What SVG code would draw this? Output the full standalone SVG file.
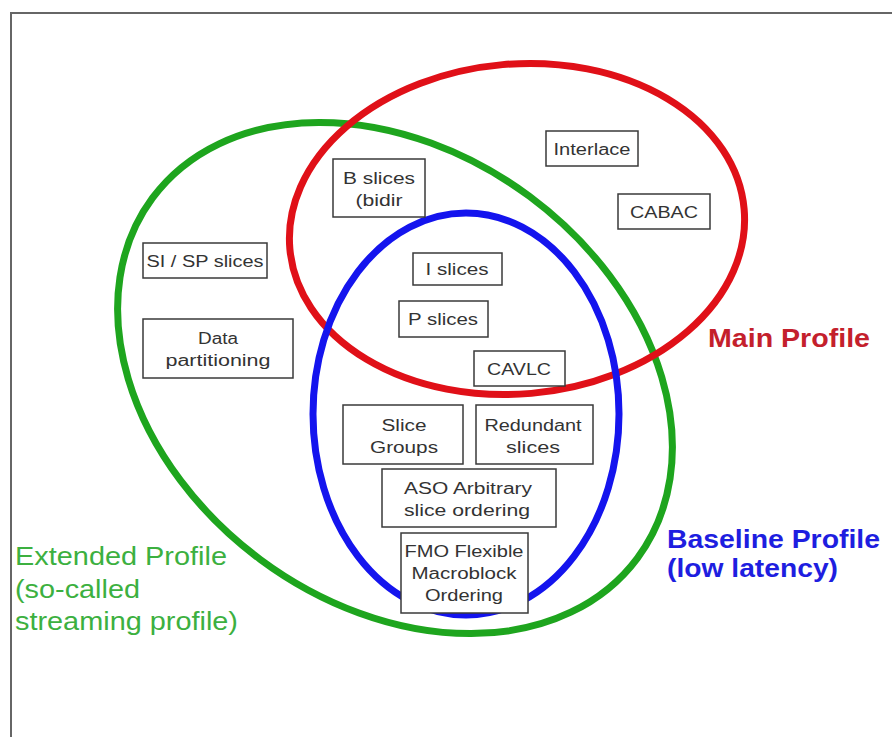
<svg xmlns="http://www.w3.org/2000/svg" width="892" height="737" viewBox="0 0 892 737">
<style>
.box{fill:#fff;stroke:#3a3a3a;stroke-width:1.5}
.bt{font-family:"Liberation Sans",Arial,sans-serif;font-size:16px;fill:#333;text-anchor:middle}
.ell{fill:none;stroke-width:7}
.lab{font-family:"Liberation Sans",Arial,sans-serif;font-size:25px}
</style>
<rect width="892" height="737" fill="#fff"/>
<path d="M11 737 V13 H892" fill="none" stroke="#666" stroke-width="2"/>
<g id="sets">
<ellipse id="extended" class="ell" cx="395" cy="378" rx="302" ry="226" transform="rotate(36.6 395 378)" stroke="#1ea51e"/>
<ellipse id="main" class="ell" cx="517" cy="229" rx="228" ry="165" transform="rotate(-5 517 229)" stroke="#e01018"/>
<ellipse id="baseline" class="ell" cx="466" cy="414" rx="153" ry="201" stroke="#1414ee"/>
</g>
<g id="connectors"></g>
<g id="interlace"><rect class="box" x="546" y="131" width="92" height="35"/><text class="bt" x="592" y="155" textLength="77" lengthAdjust="spacingAndGlyphs">Interlace</text></g>
<g id="cabac"><rect class="box" x="618" y="194" width="92" height="35"/><text class="bt" x="664" y="218" textLength="68" lengthAdjust="spacingAndGlyphs">CABAC</text></g>
<g id="bslices"><rect class="box" x="333" y="159" width="92" height="58"/><text class="bt" x="379" y="184" textLength="72" lengthAdjust="spacingAndGlyphs">B slices</text><text class="bt" x="379" y="206" textLength="47" lengthAdjust="spacingAndGlyphs">(bidir</text></g>
<g id="sisp"><rect class="box" x="143" y="243" width="124" height="35"/><text class="bt" x="205" y="267" textLength="117" lengthAdjust="spacingAndGlyphs">SI / SP slices</text></g>
<g id="datapart"><rect class="box" x="143" y="319" width="150" height="59"/><text class="bt" x="218" y="344" textLength="40" lengthAdjust="spacingAndGlyphs">Data</text><text class="bt" x="218" y="366" textLength="105" lengthAdjust="spacingAndGlyphs">partitioning</text></g>
<g id="islices"><rect class="box" x="413" y="253" width="89" height="32"/><text class="bt" x="457" y="275" textLength="63" lengthAdjust="spacingAndGlyphs">I slices</text></g>
<g id="pslices"><rect class="box" x="399" y="301" width="89" height="36"/><text class="bt" x="443" y="325" textLength="70" lengthAdjust="spacingAndGlyphs">P slices</text></g>
<g id="cavlc"><rect class="box" x="474" y="351" width="91" height="35"/><text class="bt" x="519" y="375" textLength="64" lengthAdjust="spacingAndGlyphs">CAVLC</text></g>
<g id="slicegroups"><rect class="box" x="343" y="405" width="120" height="59"/><text class="bt" x="404" y="431" textLength="45" lengthAdjust="spacingAndGlyphs">Slice</text><text class="bt" x="404" y="453" textLength="68" lengthAdjust="spacingAndGlyphs">Groups</text></g>
<g id="redundant"><rect class="box" x="476" y="405" width="117" height="59"/><text class="bt" x="533" y="431" textLength="97" lengthAdjust="spacingAndGlyphs">Redundant</text><text class="bt" x="533" y="453" textLength="54" lengthAdjust="spacingAndGlyphs">slices</text></g>
<g id="aso"><rect class="box" x="382" y="469" width="174" height="58"/><text class="bt" x="468" y="494" textLength="128" lengthAdjust="spacingAndGlyphs">ASO Arbitrary</text><text class="bt" x="467" y="516" textLength="126" lengthAdjust="spacingAndGlyphs">slice ordering</text></g>
<g id="fmo"><rect class="box" x="401" y="533" width="127" height="80"/><text class="bt" x="464" y="557" textLength="119" lengthAdjust="spacingAndGlyphs">FMO Flexible</text><text class="bt" x="464" y="579" textLength="105" lengthAdjust="spacingAndGlyphs">Macroblock</text><text class="bt" x="464" y="601" textLength="78" lengthAdjust="spacingAndGlyphs">Ordering</text></g>
<g id="labels">
<text class="lab" x="708" y="347" font-weight="bold" fill="#c4202c" textLength="162" lengthAdjust="spacingAndGlyphs">Main Profile</text>
<text class="lab" x="667" y="548" font-weight="bold" fill="#1e1ee0" textLength="213" lengthAdjust="spacingAndGlyphs">Baseline Profile</text>
<text class="lab" x="667" y="577" font-weight="bold" fill="#1e1ee0" textLength="171" lengthAdjust="spacingAndGlyphs">(low latency)</text>
<text class="lab" x="15" y="565" fill="#3cb040" textLength="212" lengthAdjust="spacingAndGlyphs">Extended Profile</text>
<text class="lab" x="15" y="598" fill="#3cb040" textLength="125" lengthAdjust="spacingAndGlyphs">(so-called</text>
<text class="lab" x="15" y="630" fill="#3cb040" textLength="223" lengthAdjust="spacingAndGlyphs">streaming profile)</text>
</g>
</svg>
